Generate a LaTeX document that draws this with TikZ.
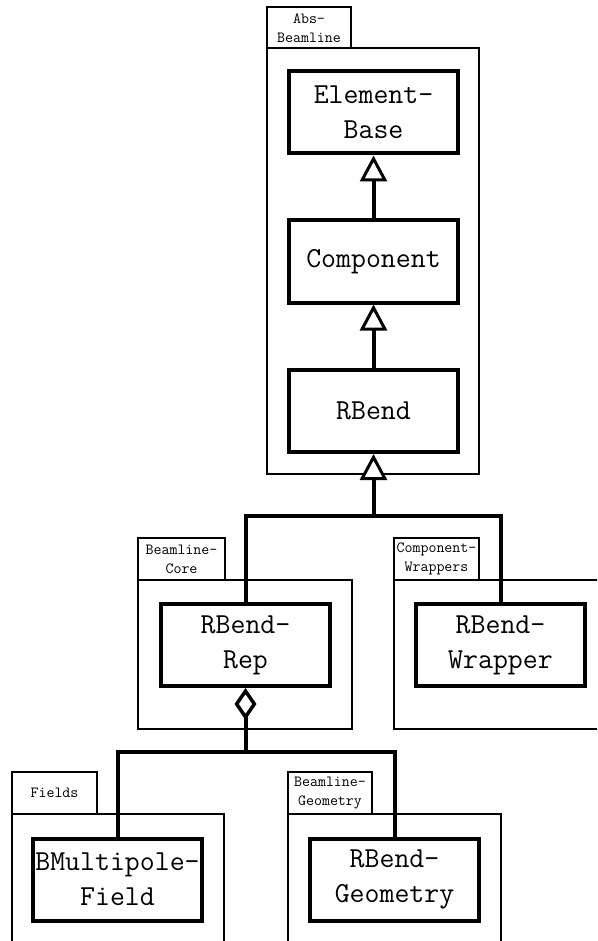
\documentclass[tikz,border=0pt]{standalone}
\usetikzlibrary{arrows.meta}
\begin{document}
\begin{tikzpicture}[x=1pt,y=-1pt,
  cls/.style={draw, line width=4pt, minimum width=169pt, minimum height=82pt, inner sep=0pt, align=center, font=\fontsize{29}{35}\selectfont\ttfamily},
  pkg/.style={draw, line width=2.4pt},
  tabtxt/.style={font=\fontsize{15.5}{19}\selectfont\ttfamily, align=center, inner sep=0pt},
  conn/.style={line width=4pt},
  inh/.style={conn, -{Triangle[fill=white, length=26pt, width=27pt, line width=3pt]}},
  agg/.style={conn, -{Diamond[fill=white, length=32pt, width=22pt, line width=3.5pt]}}
]
\clip (0,0) rectangle (597,941);
% packages
\draw[pkg] (267,7) rectangle (351,48);
\node[tabtxt] (absT) at (309,28) {Abs-\\Beamline};
\draw[pkg] (267,48) rectangle (479,474);

\draw[pkg] (138,538) rectangle (225,580);
\node[tabtxt] (coreT) at (181.5,559) {Beamline-\\Core};
\draw[pkg] (138,580) rectangle (352,729);

\draw[pkg] (394,538) rectangle (479,580);
\node[tabtxt] (wrapT) at (436.5,559) {Component-\\Wrappers};
\draw[pkg] (394,580) rectangle (620,729);

\draw[pkg] (12,772) rectangle (97,814);
\node[tabtxt] (fieldsT) at (54.5,793) {Fields};
\draw[pkg] (12,814) rectangle (224,970);

\draw[pkg] (288,772) rectangle (372,814);
\node[tabtxt] (geomT) at (330,793) {Beamline-\\Geometry};
\draw[pkg] (288,814) rectangle (501,970);

% classes
\node[cls] (eb) at (373.5,112.5) {Element-\\Base};
\node[cls] (comp) at (373.5,261.5) {Component};
\node[cls] (rb) at (373.5,411) {RBend};
\node[cls] (rep) at (245.5,645) {RBend-\\Rep};
\node[cls] (wrap) at (500.5,645) {RBend-\\Wrapper};
\node[cls] (bmf) at (117.5,879.5) {BMultipole-\\Field};
\node[cls] (geo) at (394.5,879.5) {RBend-\\Geometry};

% connectors
\draw[inh] (comp.north) -- (eb.south);
\draw[inh] (rb.north) -- (comp.south);
\coordinate (j1) at (373.5,516);
\draw[conn] (rep.north) |- (j1) -| (wrap.north);
\draw[inh] (j1) -- (rb.south);
\coordinate (j2) at (245.5,752);
\draw[conn] (bmf.north) |- (j2) -| (geo.north);
\draw[agg] (j2) -- (rep.south);
\end{tikzpicture}
\end{document}
